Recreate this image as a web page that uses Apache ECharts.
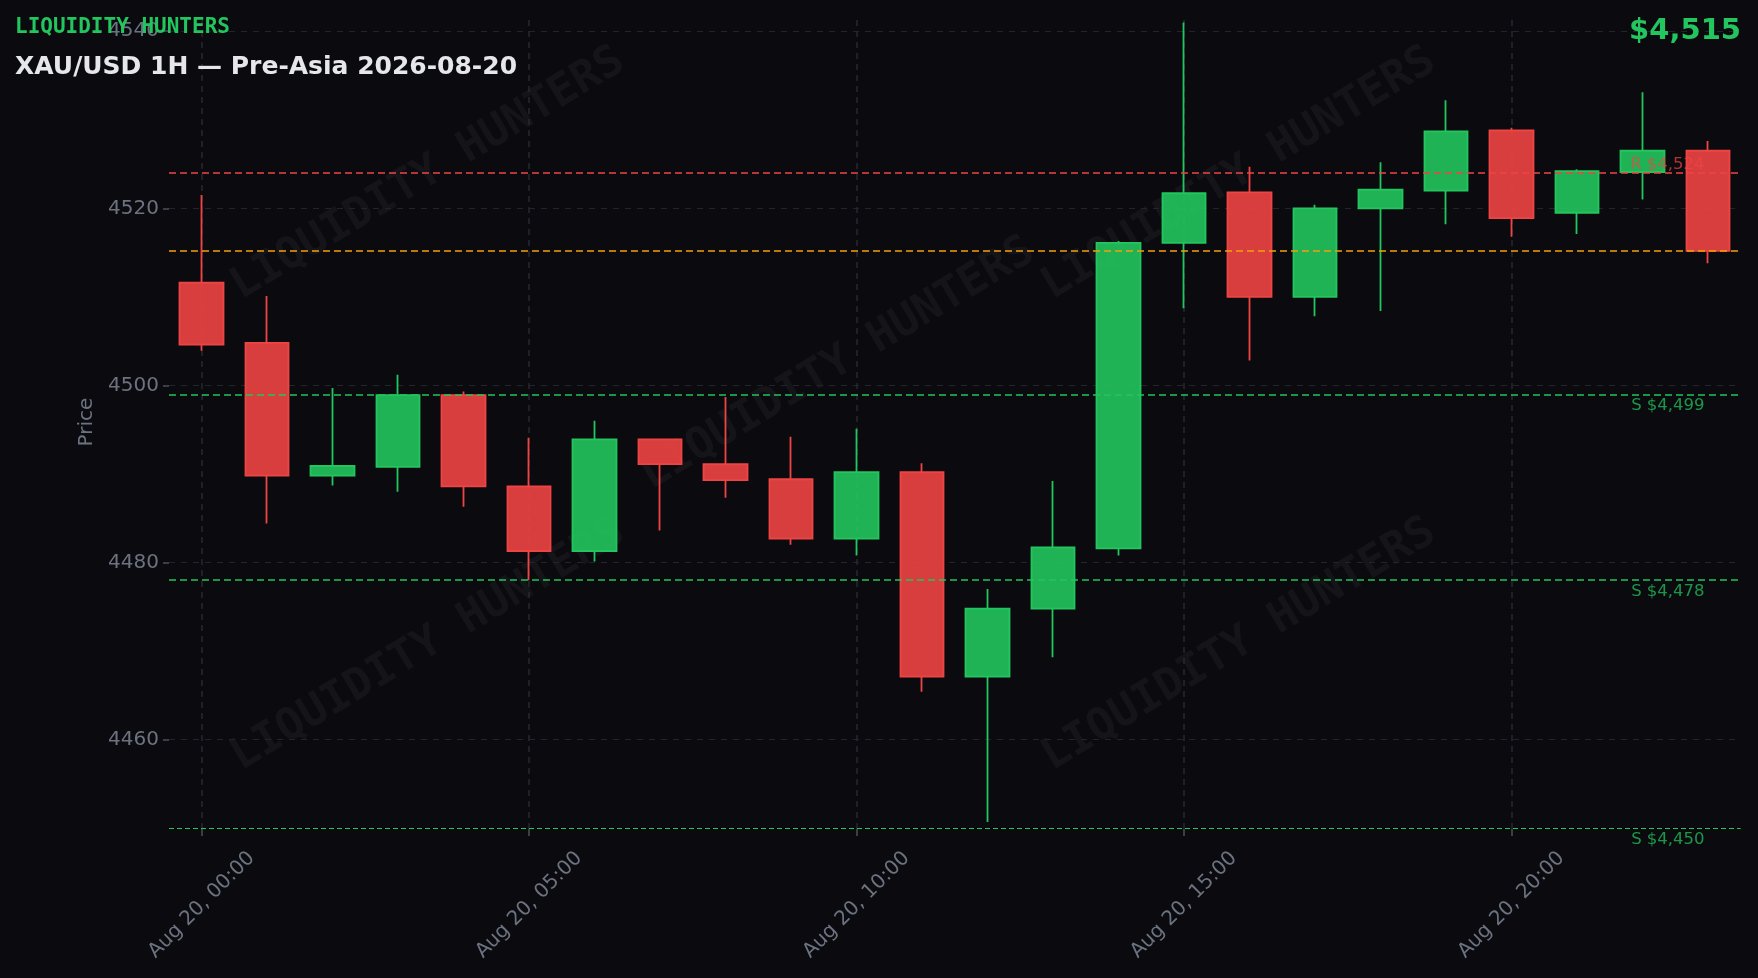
<!DOCTYPE html>
<html>
<head>
<meta charset="utf-8">
<script src="https://cdn.jsdelivr.net/npm/echarts@6/dist/echarts.min.js"></script>
<style>
  html, body { margin: 0; padding: 0; background: #0b0b0f; }
  #chart { width: 1758px; height: 978px; }
</style>
</head>
<body>
<div id="chart"></div>
<script>
// ---- data ----
const categories = [
  'Aug 20, 00:00','Aug 20, 01:00','Aug 20, 02:00','Aug 20, 03:00','Aug 20, 04:00','Aug 20, 05:00',
  'Aug 20, 06:00','Aug 20, 07:00','Aug 20, 08:00','Aug 20, 09:00','Aug 20, 10:00','Aug 20, 11:00',
  'Aug 20, 12:00','Aug 20, 13:00','Aug 20, 14:00','Aug 20, 15:00','Aug 20, 16:00','Aug 20, 17:00',
  'Aug 20, 18:00','Aug 20, 19:00','Aug 20, 20:00','Aug 20, 21:00','Aug 20, 22:00','Aug 20, 23:00'
];
const opens  = [4511.6,4504.8,4489.8,4490.8,4498.9,4488.6,4481.3,4493.9,4491.1,4489.4,4482.7,4490.2,
                4467.1,4474.8,4481.6,4516.1,4521.8,4510.0,4520.0,4522.0,4528.8,4519.5,4524.1,4526.5];
const closes = [4504.6,4489.8,4490.9,4498.9,4488.6,4481.3,4493.9,4491.1,4489.3,4482.7,4490.2,4467.1,
                4474.8,4481.7,4516.1,4521.7,4510.0,4520.0,4522.1,4528.7,4518.9,4524.2,4526.5,4515.2];
const lows   = [4503.9,4484.4,4488.7,4488.0,4486.3,4478.0,4480.1,4483.6,4487.3,4482.0,4480.8,4465.4,
                4450.7,4469.3,4480.8,4508.7,4502.8,4507.8,4508.4,4518.2,4516.8,4517.1,4521.0,4513.8];
const highs  = [4521.5,4510.1,4499.7,4501.2,4499.3,4494.1,4496.0,4494.0,4498.7,4494.2,4495.1,4491.2,
                4477.0,4489.2,4516.3,4541.0,4524.7,4520.4,4525.2,4532.2,4529.1,4524.4,4533.1,4527.6];
const levelKinds  = ['R', 'S', 'S', 'S'];
const levelValues = [4524, 4499, 4478, 4450];
const yTicks = [4460, 4480, 4500, 4520, 4540];
const xTickIndices = [0, 5, 10, 15, 20];
const yRange = [4449.9, 4541.8];
const lastPrice = closes[closes.length - 1];
const brandText = 'LIQUIDITY HUNTERS';
const titleText = 'XAU/USD 1H — Pre-Asia 2026-08-20';

// ---- styles ----
const GREEN = '#22c55e', RED = '#ef4444', ORANGE = '#f59e0b';
const GRID = '#22242c', MUTED = '#6b7280';
const FONT = '"DejaVu Sans", sans-serif';
const MONO = '"DejaVu Sans Mono", monospace';

const ohlc = categories.map((c, i) => [opens[i], closes[i], lows[i], highs[i]]);
const fmt = v => '$' + Math.round(v).toLocaleString('en-US');

const levelLines = levelValues.map((v, i) => {
  const isR = levelKinds[i] === 'R';
  const thin = i === levelValues.length - 1;
  return {
    yAxis: v,
    lineStyle: { color: isR ? RED : GREEN, width: thin ? 1 : 1.5, type: thin ? [5, 3] : [7, 4] },
    label: {
      show: true,
      formatter: levelKinds[i] + ' ' + fmt(v),
      position: isR ? 'insideEndTop' : 'insideEndBottom',
      distance: [36, isR ? 0 : 3],
      color: isR ? 'rgba(239,68,68,0.72)' : 'rgba(34,197,94,0.75)',
      fontSize: 16.5, fontFamily: FONT
    }
  };
});
levelLines.push({
  yAxis: lastPrice,
  lineStyle: { color: ORANGE, width: 1.5, type: [7, 4] },
  label: { show: false }
});

const wm = (x, y) => ({
  type: 'text', x: x, y: y, rotation: 31 * Math.PI / 180, z: -10, silent: true,
  style: { text: brandText, font: 'bold 44px ' + MONO, fill: 'rgba(255,255,255,0.045)', align: 'center', verticalAlign: 'middle' }
});

const chart = echarts.init(document.getElementById('chart'), null, { renderer: 'canvas' });
chart.setOption({
  backgroundColor: '#0b0b0f',
  animation: false,
  grid: { left: 169, right: 17.4, top: 15.3, bottom: 149 },
  graphic: [
    wm(428, 174), wm(838, 364), wm(1239, 174), wm(428, 645), wm(1239, 645),
    { type: 'text', x: 15, y: 27.5, z: 100,
      style: { text: brandText, font: 'bold 21px ' + MONO, fill: GREEN, verticalAlign: 'middle' } },
    { type: 'text', x: 15, y: 67, z: 100,
      style: { text: titleText, font: 'bold 25px ' + FONT, fill: '#e5e7eb', verticalAlign: 'middle' } },
    { type: 'text', x: 1741, y: 31, z: 100,
      style: { text: fmt(lastPrice), font: 'bold 29px ' + FONT, fill: GREEN, align: 'right', verticalAlign: 'middle' } }
  ],
  xAxis: {
    type: 'category',
    data: categories,
    boundaryGap: true,
    axisLine: { show: false },
    axisTick: { show: true, alignWithLabel: true, interval: 4, length: 7, lineStyle: { color: '#4b5060', width: 1.5 } },
    axisLabel: {
      interval: 4, rotate: 45, align: 'center', verticalAlign: 'middle', margin: 76,
      color: MUTED, fontSize: 20, fontFamily: FONT
    },
    splitLine: { show: false }
  },
  yAxis: {
    type: 'value',
    min: yRange[0], max: yRange[1],
    name: 'Price', nameLocation: 'middle', nameGap: 68.5, nameRotate: 90,
    nameTextStyle: { color: MUTED, fontSize: 20, fontFamily: FONT },
    axisLine: { show: false },
    axisTick: { show: true, length: 6, customValues: yTicks, lineStyle: { color: '#4b5060', width: 1.5 } },
    axisLabel: { customValues: yTicks, formatter: v => String(v), margin: 10, color: MUTED, fontSize: 20, fontFamily: FONT },
    splitLine: { show: true, lineStyle: { color: GRID, width: 1, type: [6, 6] } }
  },
  series: [
    {
      type: 'line', data: [], z: 1, silent: true,
      markLine: {
        z: 1, silent: true, symbol: ['none', 'none'], animation: false,
        label: { show: false },
        lineStyle: { color: '#272932', width: 1.5, type: [6, 5] },
        data: xTickIndices.map(i => ({ xAxis: categories[i] }))
      }
    },
    {
      type: 'candlestick',
      data: ohlc,
      z: 3,
      barWidth: 44,
      itemStyle: {
        color: 'rgba(34,197,94,0.9)', color0: 'rgba(239,68,68,0.9)',
        borderColor: GREEN, borderColor0: RED, borderWidth: 1.8
      },
      markLine: {
        z: 5, silent: true, symbol: ['none', 'none'], animation: false,
        data: levelLines
      }
    }
  ]
});
</script>
</body>
</html>
